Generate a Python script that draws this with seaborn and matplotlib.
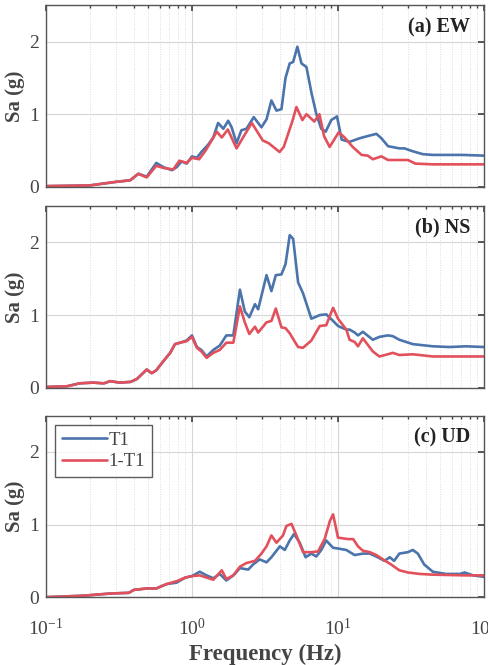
import numpy as np
import pandas as pd
import matplotlib
matplotlib.use("Agg")
import matplotlib.pyplot as plt
from matplotlib.ticker import LogLocator, NullFormatter
import seaborn as sns

# ---- data (frequency in Hz, Sa in g) ----
ew_f_t1 = [0.10, 0.20, 0.305, 0.377, 0.43, 0.49, 0.57, 0.64, 0.73, 0.785, 0.85, 0.92, 1.00, 1.08, 1.16,
           1.29, 1.40, 1.51, 1.64, 1.77, 1.87, 2.02, 2.18, 2.36, 2.65, 2.99, 3.24, 3.50, 3.79, 4.10,
           4.37, 4.67, 4.93, 5.27, 5.62, 6.08, 6.57, 7.11, 7.68, 8.23, 8.99, 9.84, 10.6, 12.0, 14.1,
           16.0, 18.3, 19.8, 22.0, 26.3, 28.5, 32.5, 38.1, 44.6, 57.9, 71.3, 100.0]
ew_t1 = [0.01, 0.02, 0.07, 0.09, 0.18, 0.14, 0.33, 0.27, 0.23, 0.27, 0.35, 0.32, 0.42, 0.40, 0.48,
         0.58, 0.68, 0.88, 0.80, 0.91, 0.82, 0.60, 0.78, 0.80, 0.96, 0.82, 0.93, 1.19, 1.05, 1.07,
         1.50, 1.70, 1.72, 1.93, 1.70, 1.65, 1.30, 1.00, 0.80, 0.76, 0.92, 0.97, 0.65, 0.62, 0.67,
         0.70, 0.73, 0.67, 0.56, 0.53, 0.53, 0.49, 0.45, 0.44, 0.44, 0.44, 0.43]

ew_f_1t1 = [0.10, 0.20, 0.305, 0.377, 0.43, 0.49, 0.57, 0.64, 0.745, 0.82, 0.92, 1.00, 1.12, 1.24,
            1.48, 1.60, 1.76, 2.02, 2.30, 2.57, 3.05, 3.36, 3.98, 4.25, 4.86, 5.19, 5.70, 6.08, 6.88,
            7.46, 8.02, 8.76, 10.1, 11.1, 12.6, 14.5, 16.0, 17.3, 19.8, 22.0, 26.3, 30.1, 33.9,
            44.6, 75.3, 100.0]
ew_1t1 = [0.01, 0.02, 0.07, 0.09, 0.18, 0.13, 0.29, 0.26, 0.24, 0.36, 0.33, 0.40, 0.38, 0.50,
          0.76, 0.68, 0.79, 0.53, 0.72, 0.88, 0.64, 0.60, 0.48, 0.55, 0.90, 1.10, 0.92, 1.00, 0.90,
          1.00, 0.70, 0.55, 0.75, 0.68, 0.55, 0.44, 0.43, 0.38, 0.42, 0.37, 0.37, 0.37, 0.32,
          0.31, 0.31, 0.31]

ns_f = [0.10, 0.14, 0.17, 0.21, 0.25, 0.275, 0.32, 0.38, 0.42, 0.49, 0.53, 0.57, 0.64, 0.71, 0.765,
        0.83, 0.92, 1.00, 1.08, 1.16, 1.26, 1.40, 1.55, 1.72, 1.92, 2.13, 2.30, 2.47, 2.70, 2.84,
        3.24, 3.50, 3.75, 4.10, 4.37, 4.67, 4.93, 5.33, 5.76, 6.57, 7.50, 8.30, 9.25, 10.0, 11.4,
        12.0, 13.0, 13.7, 14.8, 17.3, 19.2, 21.9, 23.7, 26.3, 32.5, 44.6, 57.9, 75.3, 100.0]
ns_t1 = [0.01, 0.02, 0.06, 0.07, 0.06, 0.09, 0.07, 0.08, 0.12, 0.25, 0.20, 0.24, 0.37, 0.48, 0.60,
         0.62, 0.65, 0.72, 0.56, 0.52, 0.43, 0.52, 0.58, 0.72, 0.72, 1.35, 1.05, 0.97, 1.15, 1.08,
         1.55, 1.33, 1.55, 1.56, 1.70, 2.10, 2.05, 1.45, 1.30, 0.95, 1.00, 1.01, 0.92, 0.85, 0.80,
         0.80, 0.76, 0.72, 0.77, 0.66, 0.70, 0.72, 0.71, 0.66, 0.60, 0.57, 0.56, 0.57, 0.56]
ns_1t1 = [0.01, 0.02, 0.06, 0.07, 0.06, 0.09, 0.07, 0.08, 0.12, 0.25, 0.20, 0.24, 0.37, 0.48, 0.60,
          0.62, 0.64, 0.70, 0.55, 0.50, 0.41, 0.48, 0.52, 0.62, 0.62, 1.12, 0.90, 0.74, 0.84, 0.76,
          0.90, 0.92, 1.09, 0.83, 0.82, 0.75, 0.67, 0.56, 0.55, 0.65, 0.85, 0.86, 1.10, 0.95, 0.80,
          0.66, 0.63, 0.57, 0.68, 0.50, 0.43, 0.46, 0.48, 0.45, 0.46, 0.43, 0.43, 0.43, 0.43]

ud_f_t1 = [0.10, 0.18, 0.275, 0.37, 0.40, 0.49, 0.57, 0.67, 0.785, 0.90, 1.00, 1.13, 1.26, 1.40,
           1.55, 1.72, 1.92, 2.13, 2.43, 2.62, 2.91, 3.24, 3.50, 4.00, 4.32, 4.67, 5.00, 5.47, 6.00,
           6.57, 7.10, 7.68, 8.30, 9.25, 10.0, 11.4, 13.0, 14.8, 16.5, 18.7, 20.8, 22.6, 24.2, 26.3,
           30.1, 32.5, 35.2, 38.9, 44.6, 55.0, 68.5, 73.5, 84.0, 100.0]
ud_t1 = [0.00, 0.02, 0.05, 0.06, 0.10, 0.12, 0.12, 0.18, 0.20, 0.27, 0.29, 0.35, 0.30, 0.26,
         0.32, 0.23, 0.30, 0.40, 0.38, 0.45, 0.52, 0.48, 0.55, 0.70, 0.65, 0.78, 0.87, 0.75, 0.55,
         0.60, 0.56, 0.65, 0.78, 0.68, 0.67, 0.65, 0.58, 0.60, 0.60, 0.55, 0.50, 0.55, 0.50, 0.60,
         0.62, 0.65, 0.60, 0.45, 0.35, 0.32, 0.32, 0.34, 0.30, 0.28]

ud_f_1t1 = [0.10, 0.18, 0.275, 0.37, 0.40, 0.49, 0.57, 0.67, 0.785, 0.90, 1.00, 1.13, 1.26, 1.40,
            1.60, 1.72, 1.92, 2.13, 2.36, 2.70, 2.99, 3.24, 3.50, 3.79, 4.20, 4.43, 4.80, 5.19, 5.76,
            6.57, 7.30, 8.10, 8.80, 9.25, 10.0, 11.7, 12.7, 13.7, 14.8, 16.5, 18.3, 20.3, 23.1, 26.3,
            30.1, 36.2, 44.6, 75.0, 100.0]
ud_1t1 = [0.00, 0.02, 0.05, 0.06, 0.10, 0.12, 0.12, 0.18, 0.22, 0.27, 0.29, 0.30, 0.27, 0.24,
          0.37, 0.25, 0.30, 0.42, 0.47, 0.50, 0.60, 0.70, 0.85, 0.75, 0.85, 0.98, 1.01, 0.85, 0.62,
          0.62, 0.63, 0.80, 1.05, 1.14, 0.82, 0.80, 0.80, 0.70, 0.64, 0.62, 0.58, 0.52, 0.45, 0.37,
          0.34, 0.32, 0.31, 0.30, 0.30]

panel_labels = ["(a) EW", "(b) NS", "(c) UD"]
series_names = ["T1", "1-T1"]
colors = {"T1": "#4a74ab", "1-T1": "#e2505c"}


def long_frame(f1, v1, f2, v2):
    a = pd.DataFrame({"Frequency": f1, "Sa": v1, "Case": "T1"})
    b = pd.DataFrame({"Frequency": f2, "Sa": v2, "Case": "1-T1"})
    return pd.concat([a, b], ignore_index=True)


frames = [
    long_frame(ew_f_t1, ew_t1, ew_f_1t1, ew_1t1),
    long_frame(ns_f, ns_t1, ns_f, ns_1t1),
    long_frame(ud_f_t1, ud_t1, ud_f_1t1, ud_1t1),
]

sns.set_theme(style="white")
plt.rcParams["font.family"] = ["Liberation Serif", "DejaVu Serif"]
plt.rcParams["mathtext.fontset"] = "stix"

fig = plt.figure(figsize=(4.88, 6.65), dpi=100)
boxes = [(0.094, 0.719), (0.094, 0.417), (0.094, 0.102)]
w, h = 0.898, 0.273
text_gray = "#444444"

for i, (df, label) in enumerate(zip(frames, panel_labels)):
    ax = fig.add_axes([boxes[i][0], boxes[i][1], w, h])
    sns.lineplot(data=df, x="Frequency", y="Sa", hue="Case", hue_order=series_names,
                 palette=colors, linewidth=1.9, ax=ax, legend=(i == 2), estimator=None, sort=False)
    ax.set_xscale("log")
    ax.set_xlim(0.1, 100)
    ax.set_ylim(0, 2.5)
    ax.set_yticks([0, 1, 2])
    ax.xaxis.set_major_locator(LogLocator(base=10, numticks=10))
    ax.xaxis.set_minor_locator(LogLocator(base=10, subs=np.arange(2, 10), numticks=20))
    ax.xaxis.set_minor_formatter(NullFormatter())
    ax.grid(True, which="major", color="#d6d6d6", linewidth=0.8)
    ax.grid(True, which="minor", axis="x", color="#d0d0d0", linewidth=0.6, linestyle=(0, (1, 2)))
    ax.tick_params(which="both", direction="in", top=True, right=True, colors="#444444",
                   labelcolor=text_gray, labelsize=14)
    ax.tick_params(which="major", length=4)
    ax.tick_params(which="minor", length=2)
    ax.tick_params(axis="y", pad=5)
    ax.tick_params(axis="x", pad=15)
    for s in ax.spines.values():
        s.set_color("#555555")
        s.set_linewidth(1.0)
    ax.set_ylabel("Sa (g)", fontsize=15, fontweight="bold", color=text_gray, labelpad=3)
    ax.text(0.968, 0.88, label, transform=ax.transAxes, ha="right", va="center",
            fontsize=14.5, fontweight="bold", color="#222222")
    if i < 2:
        ax.set_xlabel("")
        ax.tick_params(axis="x", labelbottom=False)
    else:
        ax.set_xlabel("Frequency (Hz)", fontsize=16.5, fontweight="bold", color=text_gray, labelpad=3)
        leg = ax.legend(loc="upper left", fontsize=13.5, frameon=True, handlelength=2.4,
                        borderaxespad=0.5, fancybox=False, handletextpad=0.1,
                        labelspacing=0.25, borderpad=0.35)
        leg.get_frame().set_edgecolor("#333333")
        leg.get_frame().set_linewidth(1.0)
        for t in leg.get_texts():
            t.set_color(text_gray)

fig.savefig("out.png", dpi=100)
